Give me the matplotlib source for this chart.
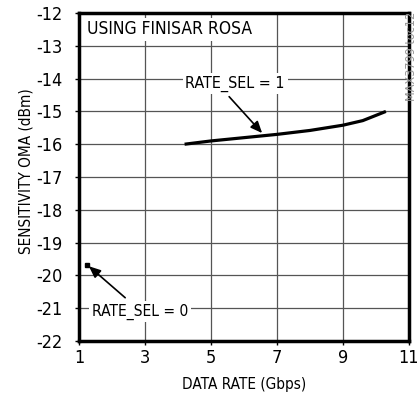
import numpy as np
import matplotlib.pyplot as plt

# data
rate_sel1_x = [4.2, 5.0, 6.0, 7.0, 8.0, 9.0, 9.6, 10.3]
rate_sel1_y = [-16.0, -15.9, -15.8, -15.7, -15.58, -15.42, -15.28, -15.0]
rate_sel0_x = [1.25]
rate_sel0_y = [-19.68]

xticks = [1, 3, 5, 7, 9, 11]
yticks = list(range(-22, -11))

plt.rcParams['font.family'] = ['DejaVu Sans']
plt.rcParams['font.stretch'] = 'condensed'
plt.rcParams['axes.unicode_minus'] = False

fig = plt.figure(figsize=(4.17, 4.03), dpi=100)
ax = fig.add_axes([0.1894, 0.1538, 0.7914, 0.8139])

ax.plot(rate_sel1_x, rate_sel1_y, color='black', lw=2.3, solid_capstyle='butt', zorder=3)
ax.plot(rate_sel0_x, rate_sel0_y, 's', color='black', ms=2.5, zorder=3)

ax.set_xlim(1, 11)
ax.set_ylim(-22, -12)
ax.set_xticks(xticks)
ax.set_yticks(yticks)
ax.tick_params(labelsize=13, length=3, width=1, color='black')
ax.tick_params(axis='x', pad=3)
ax.tick_params(axis='y', pad=9)
ax.grid(True, color='#555555', lw=0.9)
ax.set_axisbelow(True)
for s in ax.spines.values():
    s.set_linewidth(2.5)

ax.set_xlabel('DATA RATE (Gbps)', fontsize=11, labelpad=7)
ax.set_ylabel('SENSITIVITY OMA (dBm)', fontsize=11)
ax.yaxis.set_label_coords(-0.139, 0.517)

box = dict(facecolor='white', edgecolor='none', pad=2)
ax.text(1.25, -12.5, 'USING FINISAR ROSA', fontsize=12.5, ha='left', va='center', bbox=box, zorder=4)
ax.text(5.73, -14.15, 'RATE_SEL = 1', fontsize=11.5, ha='center', va='center', bbox=box, zorder=4)
ax.text(2.85, -21.1, 'RATE_SEL = 0', fontsize=11.2, ha='center', va='center', bbox=box, zorder=4)

arrow = dict(arrowstyle='-|>,head_length=0.7,head_width=0.3', color='black', lw=1.2, shrinkA=0, shrinkB=0)
ax.annotate('', xy=(6.55, -15.66), xytext=(5.55, -14.55), arrowprops=arrow, zorder=5)
ax.annotate('', xy=(1.3, -19.72), xytext=(2.4, -20.68), arrowprops=arrow, zorder=5)

fig.text(0.987, 0.97, 'MAX3799 toc12', rotation=90, fontsize=9, color='#999999', ha='center', va='top')

fig.savefig('out.png', dpi=100)
